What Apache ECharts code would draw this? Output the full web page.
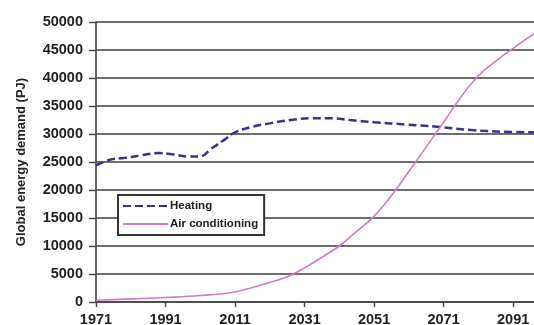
<!DOCTYPE html>
<html>
<head>
<meta charset="utf-8">
<script src="https://cdn.jsdelivr.net/npm/echarts@6/dist/echarts.min.js"></script>
<style>
  html, body { margin: 0; padding: 0; background: #fff; }
  #chart { width: 534px; height: 325px; }
</style>
</head>
<body>
<div id="chart"></div>
<script>
// years are offsets from 1971 on the axis
const baseYear = 1971;
const tickLabels = ['1971', '1991', '2011', '2031', '2051', '2071', '2091'];

const heatingYears = [1971, 1975, 1979, 1984, 1989, 1993, 1997, 2001, 2004, 2008, 2011, 2016, 2021, 2027, 2033, 2039, 2044, 2051, 2060, 2069, 2079, 2088, 2097];
const heatingValues = [24400, 25400, 25700, 26200, 26600, 26400, 26000, 26000, 27300, 29000, 30300, 31300, 31900, 32500, 32800, 32800, 32500, 32100, 31700, 31300, 30700, 30400, 30300];

const acYears = [1971, 1981, 1991, 2001, 2011, 2016, 2021, 2026, 2031, 2036, 2041, 2046, 2051, 2056, 2061, 2066, 2071, 2076, 2081, 2086, 2091, 2097];
const acValues = [300, 550, 800, 1150, 1800, 2600, 3500, 4500, 6100, 8000, 10000, 12600, 15300, 19000, 23300, 27700, 32100, 36600, 40400, 43000, 45300, 47900];

function pairs(years, vals) {
  return years.map((y, i) => [y - baseYear, vals[i]]);
}

const myChart = echarts.init(document.getElementById('chart'));
const font = 'Liberation Sans, Arial, sans-serif';
const option = {
  backgroundColor: '#fff',
  animation: false,
  grid: { left: 96, right: 0, top: 22, bottom: 23, outerBoundsMode: 'none', containLabel: false },
  legend: {
    orient: 'vertical',
    left: 118,
    top: 195,
    padding: [5, 6, 5, 4],
    itemGap: 6,
    itemWidth: 45,
    itemHeight: 10,
    backgroundColor: '#fff',
    borderColor: '#333',
    borderWidth: 2,
    borderRadius: 0,
    itemStyle: { opacity: 0 },
    textStyle: { fontFamily: font, fontWeight: 'bold', fontSize: 11.5, color: '#222', padding: [0, 0, 0, -3] },
    data: ['Heating', 'Air conditioning']
  },
  xAxis: {
    type: 'value',
    min: 0,
    max: 126,
    interval: 20,
    axisLine: { show: true, lineStyle: { color: '#444', width: 1.6 } },
    axisTick: { show: true, length: 5, lineStyle: { color: '#444', width: 1.4 } },
    splitLine: { show: false },
    axisLabel: {
      showMaxLabel: false,
      margin: 10,
      fontFamily: font,
      fontWeight: 'bold',
      fontSize: 14.5,
      color: '#222',
      formatter: v => (v % 20 === 0 ? tickLabels[v / 20] : '')
    }
  },
  yAxis: {
    type: 'value',
    min: 0,
    max: 50000,
    interval: 5000,
    name: 'Global energy demand (PJ)',
    nameLocation: 'middle',
    nameGap: 68,
    nameTextStyle: { fontFamily: font, fontWeight: 'bold', fontSize: 13, color: '#222' },
    axisLine: { show: true, lineStyle: { color: '#444', width: 1.6 } },
    axisTick: { show: true, length: 7, lineStyle: { color: '#444', width: 1.4 } },
    splitLine: { show: true, lineStyle: { color: '#3c3c3c', width: 1.7 } },
    axisLabel: {
      margin: 13,
      fontFamily: font,
      fontWeight: 'bold',
      fontSize: 14.5,
      color: '#222',
      formatter: v => String(v)
    }
  },
  series: [
    {
      name: 'Heating',
      type: 'line',
      smooth: 0.4,
      showSymbol: false,
      symbol: 'none',
      color: '#34348c',
      lineStyle: { color: '#34348c', width: 2.5, type: [8, 4] },
      data: pairs(heatingYears, heatingValues)
    },
    {
      name: 'Air conditioning',
      type: 'line',
      smooth: 0.4,
      showSymbol: false,
      symbol: 'none',
      color: '#d47ac8',
      lineStyle: { color: '#d47ac8', width: 1.6 },
      data: pairs(acYears, acValues)
    }
  ]
};
myChart.setOption(option);
window.onresize = myChart.resize;
</script>
</body>
</html>
